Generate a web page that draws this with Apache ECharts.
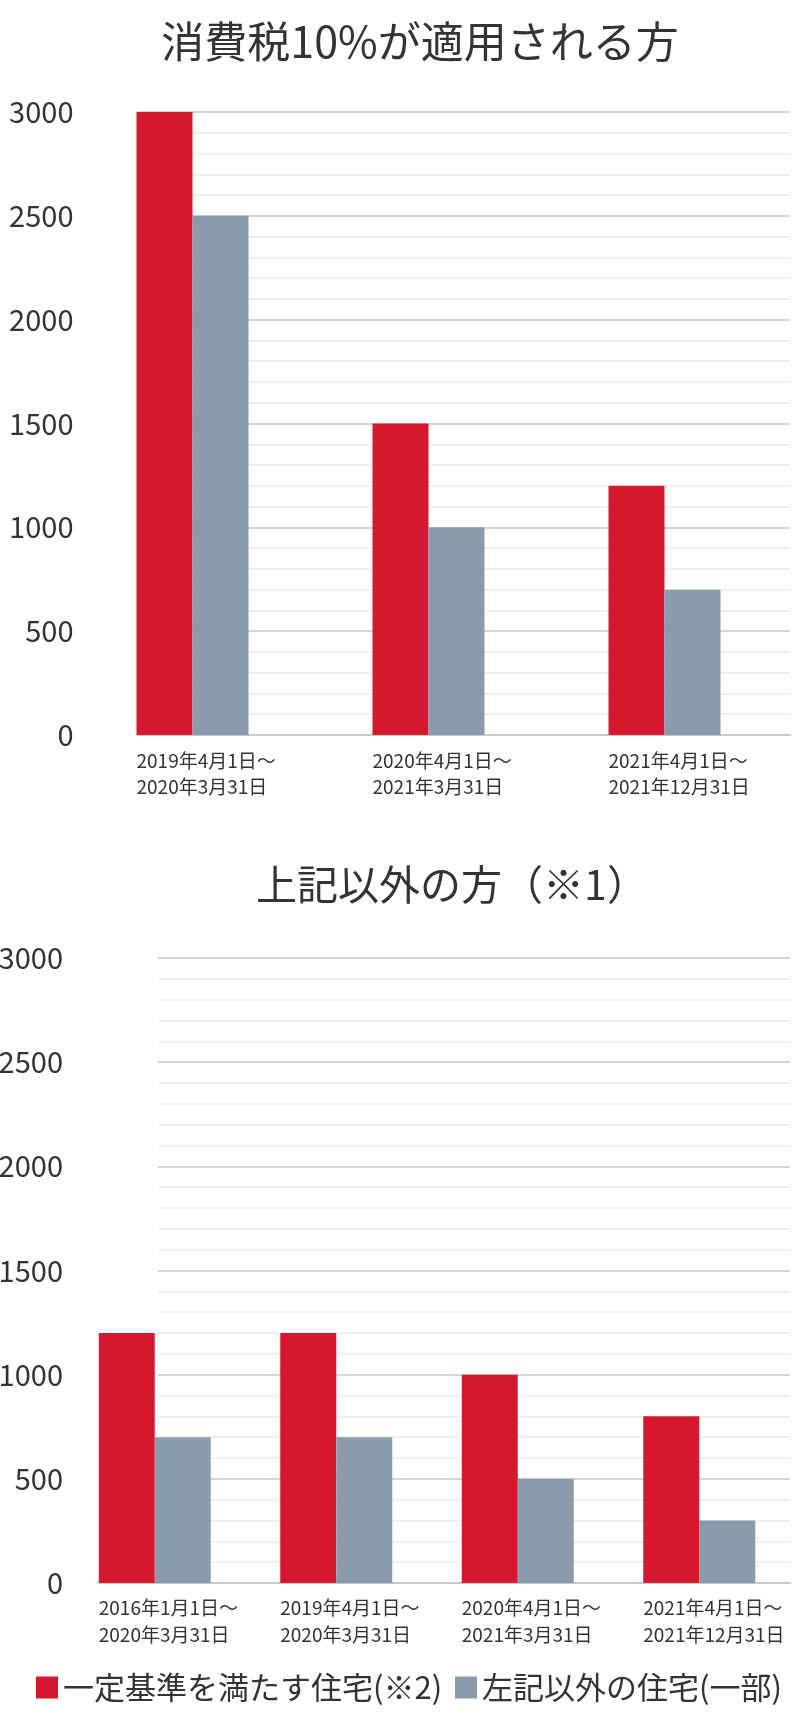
<!DOCTYPE html>
<html>
<head>
<meta charset="utf-8">
<script src="https://cdn.jsdelivr.net/npm/echarts@6/dist/echarts.min.js"></script>
<style>
html,body{margin:0;padding:0;background:#fff;}
#c{width:800px;height:1726px;}
</style>
</head>
<body>
<div id="c"></div>
<script>
var FONT = '"Noto Sans CJK JP","Noto Sans",sans-serif';

var topTitle = '消費税10%が適用される方';
var bottomTitle = '上記以外の方（※1）';

var topCategories = ['2019年4月1日～\n2020年3月31日', '2020年4月1日～\n2021年3月31日', '2021年4月1日～\n2021年12月31日'];
var topStandard = [3000, 1500, 1200];
var topOther = [2500, 1000, 700];

var bottomCategories = ['2016年1月1日～\n2020年3月31日', '2019年4月1日～\n2020年3月31日', '2020年4月1日～\n2021年3月31日', '2021年4月1日～\n2021年12月31日'];
var bottomStandard = [1200, 1200, 1000, 800];
var bottomOther = [700, 700, 500, 300];

var seriesNames = ['一定基準を満たす住宅(※2)', '左記以外の住宅(一部)'];
var yTicks = [0, 500, 1000, 1500, 2000, 2500, 3000];

var RED = '#D5182D';
var GREY = '#8A9BAC';

function catLabel(margin, lh) {
  return {
    show: true,
    interval: 0,
    margin: margin,
    formatter: function (v) {
      return v.split('\n').map(function (s) { return '{a|' + s + '}'; }).join('\n');
    },
    rich: {
      a: { width: 112, align: 'left', fontSize: 19, lineHeight: lh, color: '#333', fontFamily: FONT }
    }
  };
}

function barY(gridIndex) {
  return {
    gridIndex: gridIndex, type: 'value', min: yTicks[0], max: yTicks[yTicks.length - 1], interval: 500,
    axisLine: { show: false }, axisTick: { show: false }, splitLine: { show: false },
    axisLabel: { show: true, margin: 1, fontSize: 29, color: '#333', fontFamily: FONT,
      formatter: function (v) { return String(v); } }
  };
}
function lineY(gridIndex, showSplit) {
  return {
    gridIndex: gridIndex, type: 'value', min: yTicks[0], max: yTicks[yTicks.length - 1], interval: 500,
    axisLine: { show: false }, axisTick: { show: false }, axisLabel: { show: false },
    splitLine: { show: showSplit, lineStyle: { color: '#c9c9c9', width: 1.5 } },
    minorTick: { show: false, splitNumber: 5 },
    minorSplitLine: { show: showSplit, lineStyle: { color: '#ececec', width: 1.5 } }
  };
}
function lineX(gridIndex, showAxis) {
  return {
    gridIndex: gridIndex, type: 'value', min: 0, max: 1,
    axisLine: { show: showAxis, onZero: false, lineStyle: { color: '#c9c9c9', width: 2 } },
    axisTick: { show: false }, axisLabel: { show: false }, splitLine: { show: false }
  };
}
function mkGrid(left, right, top, height) {
  return { left: left, right: right, top: top, height: height, containLabel: false, outerBoundsMode: 'none' };
}

var chart = echarts.init(document.getElementById('c'), null, { renderer: 'canvas' });
chart.setOption({
  backgroundColor: '#fff',
  animation: false,
  textStyle: { fontFamily: FONT },
  title: [
    { text: topTitle, left: 415, top: 15, textAlign: 'center',
      textStyle: { fontSize: 43, fontWeight: 'normal', color: '#333', fontFamily: FONT } },
    { text: bottomTitle, left: 447, top: 859, textAlign: 'center',
      textStyle: { fontSize: 41, fontWeight: 'normal', color: '#333', fontFamily: FONT } }
  ],
  legend: [
    { data: [seriesNames[0]], left: 31, top: 1667, icon: 'rect', itemWidth: 22, itemHeight: 22, itemGap: 0,
      textStyle: { fontSize: 31, color: '#333', fontFamily: FONT } },
    { data: [seriesNames[1]], left: 450, top: 1667, icon: 'rect', itemWidth: 22, itemHeight: 22, itemGap: 0,
      textStyle: { fontSize: 31, color: '#333', fontFamily: FONT } }
  ],
  grid: [
    mkGrid(74.5, 17.5, 112, 623),
    mkGrid(137, 10, 112, 623),
    mkGrid(64, 10, 958, 625),
    mkGrid(158, 10, 958, 625),
    mkGrid(99, 10, 958, 625)
  ],
  xAxis: [
    { gridIndex: 0, type: 'category', data: topCategories,
      axisLine: { show: false }, axisTick: { show: false }, axisLabel: catLabel(13, 26) },
    lineX(1, true),
    { gridIndex: 2, type: 'category', data: bottomCategories,
      axisLine: { show: false }, axisTick: { show: false }, axisLabel: catLabel(11, 27) },
    lineX(3, false),
    lineX(4, true)
  ],
  yAxis: [
    barY(0),
    lineY(1, true),
    barY(2),
    lineY(3, true),
    lineY(4, false)
  ],
  series: [
    { name: seriesNames[0], type: 'bar', xAxisIndex: 0, yAxisIndex: 0, data: topStandard,
      barWidth: 56, barGap: '0%', itemStyle: { color: RED }, z: 3 },
    { name: seriesNames[1], type: 'bar', xAxisIndex: 0, yAxisIndex: 0, data: topOther,
      barWidth: 56, barGap: '0%', itemStyle: { color: GREY }, z: 3 },
    { name: seriesNames[0], type: 'bar', xAxisIndex: 2, yAxisIndex: 2, data: bottomStandard,
      barWidth: 56, barGap: '0%', itemStyle: { color: RED }, z: 3 },
    { name: seriesNames[1], type: 'bar', xAxisIndex: 2, yAxisIndex: 2, data: bottomOther,
      barWidth: 56, barGap: '0%', itemStyle: { color: GREY }, z: 3 }
  ]
});
</script>
</body>
</html>
